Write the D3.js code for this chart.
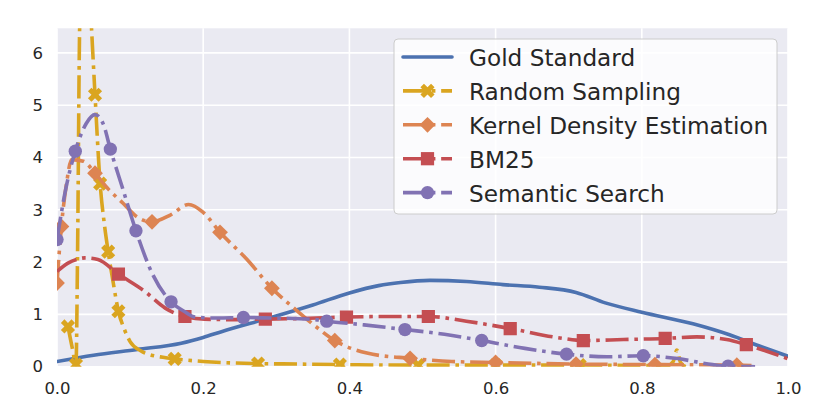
<!DOCTYPE html>
<html><head><meta charset="utf-8">
<script src="https://cdn.jsdelivr.net/npm/d3@7"></script>
<style>body{margin:0;background:#fff}svg{display:block;font-family:"DejaVu Sans",sans-serif}</style>
</head><body><svg id="c" width="830" height="415"></svg>
<script>
// ---- data ----
const xTicks = [0, 0.2, 0.4, 0.6, 0.8, 1.0];
const yTicks = [0, 1, 2, 3, 4, 5, 6];
const seriesNames = ["Gold Standard", "Random Sampling", "Kernel Density Estimation", "BM25", "Semantic Search"];

const goldX = [0, 0.05, 0.11, 0.17, 0.2, 0.225, 0.29, 0.35, 0.40, 0.44, 0.47, 0.51, 0.56, 0.61, 0.66, 0.71, 0.75, 0.80, 0.87, 0.92, 0.96, 1.0];
const goldY = [0.1, 0.22, 0.33, 0.45, 0.56, 0.67, 0.93, 1.18, 1.41, 1.55, 1.61, 1.65, 1.63, 1.57, 1.52, 1.42, 1.22, 1.04, 0.82, 0.61, 0.40, 0.2];

const rsX = [0.015, 0.021, 0.026, 0.028, 0.031, 0.038, 0.046, 0.052, 0.059, 0.065, 0.07, 0.077, 0.084, 0.092, 0.1, 0.115, 0.127, 0.145, 0.161, 0.2, 0.275, 0.33, 0.387, 0.494, 0.6, 0.715, 0.835, 0.843, 0.848, 0.853, 0.86];
const rsY = [0.77, 0.35, 0.04, 2.0, 6.5, 9.0, 6.8, 5.2, 3.5, 2.7, 2.2, 1.6, 1.06, 0.72, 0.48, 0.3, 0.23, 0.18, 0.15, 0.1, 0.06, 0.05, 0.04, 0.03, 0.03, 0.03, 0.02, 0.1, 0.32, 0.08, 0.0];
const rsMarks = [0, 2, 7, 8, 10, 12, 18, 20, 22, 23, 24, 25];

const kdX = [0, 0.006, 0.013, 0.02, 0.036, 0.052, 0.07, 0.09, 0.11, 0.13, 0.155, 0.18, 0.2, 0.223, 0.26, 0.294, 0.33, 0.353, 0.38, 0.424, 0.483, 0.54, 0.6, 0.71, 0.818, 0.93, 0.95];
const kdY = [1.6, 2.68, 3.5, 3.96, 3.93, 3.7, 3.4, 3.13, 2.86, 2.77, 2.9, 3.1, 2.95, 2.57, 2.05, 1.5, 1.05, 0.78, 0.5, 0.26, 0.16, 0.1, 0.08, 0.05, 0.04, 0.03, 0.02];
const kdMarks = [0, 1, 5, 9, 13, 15, 18, 20, 22, 23, 24, 25];

const bmX = [0, 0.015, 0.027, 0.038, 0.056, 0.084, 0.12, 0.148, 0.175, 0.202, 0.234, 0.285, 0.332, 0.396, 0.45, 0.508, 0.56, 0.62, 0.688, 0.72, 0.775, 0.832, 0.875, 0.916, 0.943, 0.97, 1.0];
const bmY = [1.82, 1.98, 2.05, 2.08, 2.05, 1.77, 1.44, 1.12, 0.96, 0.91, 0.9, 0.91, 0.92, 0.95, 0.96, 0.96, 0.87, 0.73, 0.55, 0.50, 0.52, 0.54, 0.57, 0.52, 0.42, 0.3, 0.15];
const bmMarks = [5, 8, 11, 13, 15, 17, 19, 21, 24];

const ssX = [0, 0.012, 0.025, 0.04, 0.052, 0.063, 0.073, 0.09, 0.108, 0.13, 0.156, 0.175, 0.189, 0.22, 0.255, 0.3, 0.353, 0.369, 0.42, 0.476, 0.53, 0.581, 0.64, 0.697, 0.752, 0.802, 0.846, 0.897, 0.918, 0.955];
const ssY = [2.43, 3.4, 4.12, 4.65, 4.82, 4.65, 4.16, 3.4, 2.6, 1.79, 1.24, 1.05, 0.95, 0.93, 0.94, 0.93, 0.90, 0.87, 0.8, 0.71, 0.62, 0.50, 0.35, 0.24, 0.19, 0.21, 0.16, 0.04, 0.01, 0.0];
const ssMarks = [0, 2, 6, 8, 10, 14, 17, 19, 21, 23, 25, 28];

const colors = ["#4C72B0", "#DAA520", "#DD8452", "#C44E52", "#8172B3"];
const markerTypes = [null, "x", "diamond", "square", "circle"];

// ---- build ----
const series = [
  {xs: goldX, ys: goldY, marks: []},
  {xs: rsX, ys: rsY, marks: rsMarks},
  {xs: kdX, ys: kdY, marks: kdMarks},
  {xs: bmX, ys: bmY, marks: bmMarks},
  {xs: ssX, ys: ssY, marks: ssMarks}
].map((s, i) => ({...s, name: seriesNames[i], color: colors[i], marker: markerTypes[i],
  pts: s.xs.map((x, j) => [x, s.ys[j]])}));

const svg = d3.select("#c");
const L = 57, R = 788, T = 28.3, B = 366.7;
const x = d3.scaleLinear().domain([0, 1]).range([L, R]);
const y = d3.scaleLinear().domain([0, 6.47]).range([B, T]);

svg.append("rect").attr("x", L).attr("y", T).attr("width", R - L).attr("height", B - T).attr("fill", "#EAEAF2");
svg.append("defs").append("clipPath").attr("id", "clip")
  .append("rect").attr("x", L).attr("y", T).attr("width", R - L).attr("height", B - T);

// grid
const grid = svg.append("g");
grid.selectAll(".gx").data(xTicks).join("line")
  .attr("x1", d => x(d)).attr("x2", d => x(d)).attr("y1", T).attr("y2", B)
  .attr("stroke", "#fff").attr("stroke-width", 1.6);
grid.selectAll(".gy").data(yTicks).join("line")
  .attr("y1", d => y(d)).attr("y2", d => y(d)).attr("x1", L).attr("x2", R)
  .attr("stroke", "#fff").attr("stroke-width", 1.6);

// axes
const ax = svg.append("g").attr("transform", `translate(0,${B})`)
  .call(d3.axisBottom(x).tickValues(xTicks).tickFormat(d3.format(".1f")).tickSize(0).tickPadding(15.5));
const ay = svg.append("g").attr("transform", `translate(${L},0)`)
  .call(d3.axisLeft(y).tickValues(yTicks).tickFormat(d3.format("d")).tickSize(0).tickPadding(14));
[ax, ay].forEach(a => {
  a.select(".domain").remove();
  a.selectAll("text").attr("font-size", 16.5).attr("fill", "#262626").attr("font-family", "DejaVu Sans");
});

const LW = 3.6;
const dash = [6.4, 1.6, 1.0, 1.6].map(v => v * LW).join(",");

function symbolPath(type) {
  if (type === "circle") return {d: d3.symbol(d3.symbolCircle, 140)(), rot: 0};
  if (type === "square") return {d: d3.symbol(d3.symbolSquare, 175)(), rot: 0};
  if (type === "diamond") return {d: d3.symbol(d3.symbolSquare, 125)(), rot: 45};
  if (type === "x") return {d: d3.symbol(d3.symbolCross, 125)(), rot: 45};
}

const line = d3.line().x(d => x(d[0])).y(d => y(d[1])).curve(d3.curveMonotoneX);
const plot = svg.append("g").attr("clip-path", "url(#clip)");
series.forEach((s, i) => {
  plot.append("path").attr("d", line(s.pts)).attr("fill", "none")
    .attr("stroke", s.color).attr("stroke-width", LW)
    .attr("stroke-dasharray", i === 0 ? null : dash)
    .attr("stroke-linecap", i === 0 ? "round" : "butt").attr("stroke-linejoin", "round");
  if (s.marker) {
    const sp = symbolPath(s.marker);
    plot.append("g").selectAll("path").data(s.marks.map(k => s.pts[k])).join("path")
      .attr("d", sp.d).attr("fill", s.color)
      .attr("transform", d => `translate(${x(d[0])},${y(d[1])}) rotate(${sp.rot})`);
  }
});

// legend
const lg = svg.append("g");
lg.append("rect").attr("x", 394).attr("y", 39).attr("width", 383).attr("height", 175).attr("rx", 4)
  .attr("fill", "#fff").attr("fill-opacity", 0.8).attr("stroke", "#cccccc").attr("stroke-width", 1);
series.forEach((s, i) => {
  const base = 66 + i * 33.9, cy = base - 9;
  lg.append("line").attr("x1", 403).attr("x2", 452).attr("y1", cy).attr("y2", cy)
    .attr("stroke", s.color).attr("stroke-width", LW)
    .attr("stroke-dasharray", i === 0 ? null : dash)
    .attr("stroke-linecap", i === 0 ? "round" : "butt");
  if (s.marker) {
    const sp = symbolPath(s.marker);
    lg.append("path").attr("d", sp.d).attr("fill", s.color)
      .attr("transform", `translate(427.5,${cy}) rotate(${sp.rot})`);
  }
  lg.append("text").attr("x", 469).attr("y", base).text(s.name)
    .attr("font-size", 23.2).attr("fill", "#262626");
});
</script></body></html>
